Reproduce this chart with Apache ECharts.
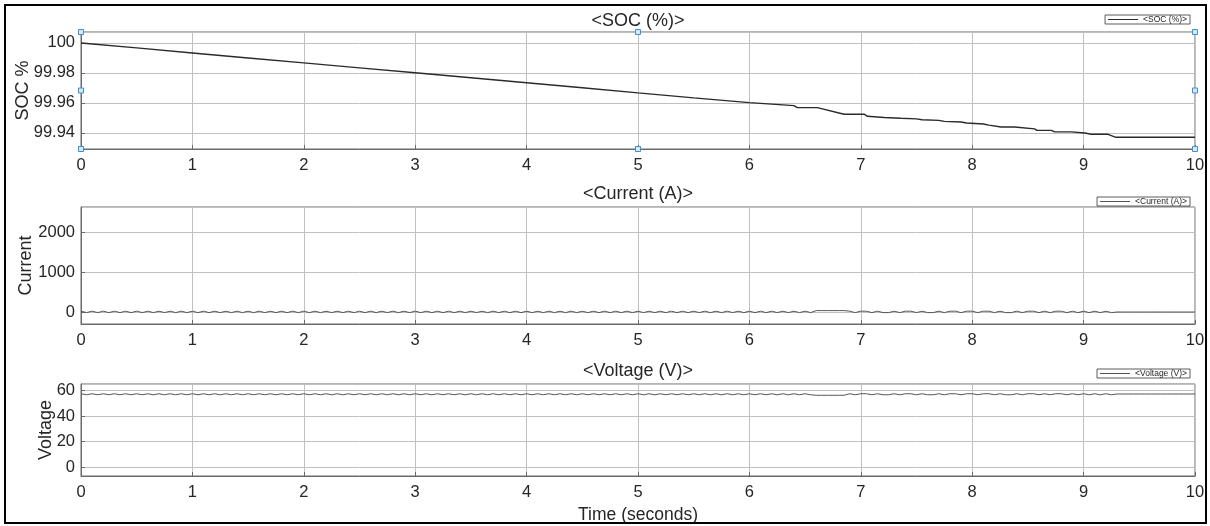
<!DOCTYPE html>
<html>
<head>
<meta charset="utf-8">
<script src="https://cdn.jsdelivr.net/npm/echarts@6/dist/echarts.min.js"></script>
<style>
html,body{margin:0;padding:0;background:#fff;}
#chart{width:1210px;height:526px;}
</style>
</head>
<body>
<div id="chart"></div>
<script>
// ---- Data ----
const xTicks = [0,1,2,3,4,5,6,7,8,9,10];

const socTime = [0,0.5,1,1.5,2,2.5,3,3.5,4,4.5,5,5.5,6,6.2,6.4,6.43,6.61,6.85,7.03,7.06,7.21,7.36,7.5,7.55,7.7,7.75,7.9,7.95,8.1,8.15,8.26,8.38,8.39,8.56,8.58,8.71,8.74,8.89,8.9,9.01,9.07,9.22,9.29,10];
const socValues = [100,99.9967,99.9933,99.99,99.9867,99.9834,99.9801,99.9768,99.9735,99.9701,99.9667,99.9634,99.9602,99.9592,99.9582,99.9569,99.9569,99.9525,99.9525,99.9511,99.9503,99.9498,99.9494,99.9488,99.9484,99.9477,99.9473,99.9466,99.946,99.9452,99.944,99.944,99.9427,99.9427,99.9417,99.9417,99.9407,99.9407,99.94,99.94,99.9391,99.9391,99.9371,99.9371];

const cvTime = [
0,0.05,0.1,0.15,0.2,0.25,0.3,0.35,0.4,0.45,0.5,0.55,0.6,0.65,0.7,0.75,0.8,0.85,0.9,0.95,
1,1.05,1.1,1.15,1.2,1.25,1.3,1.35,1.4,1.45,1.5,1.55,1.6,1.65,1.7,1.75,1.8,1.85,1.9,1.95,
2,2.05,2.1,2.15,2.2,2.25,2.3,2.35,2.4,2.45,2.5,2.55,2.6,2.65,2.7,2.75,2.8,2.85,2.9,2.95,
3,3.05,3.1,3.15,3.2,3.25,3.3,3.35,3.4,3.45,3.5,3.55,3.6,3.65,3.7,3.75,3.8,3.85,3.9,3.95,
4,4.05,4.1,4.15,4.2,4.25,4.3,4.35,4.4,4.45,4.5,4.55,4.6,4.65,4.7,4.75,4.8,4.85,4.9,4.95,
5,5.05,5.1,5.15,5.2,5.25,5.3,5.35,5.4,5.45,5.5,5.55,5.6,5.65,5.7,5.75,5.8,5.85,5.9,5.95,
6,6.05,6.1,6.15,6.2,6.25,6.3,6.35,6.4,6.45,6.5,6.55,6.6,6.65,6.7,6.75,6.8,6.85,6.9,6.95,
7,7.05,7.1,7.15,7.2,7.25,7.3,7.35,7.4,7.45,7.5,7.55,7.6,7.65,7.7,7.75,7.8,7.85,7.9,7.95,
8,8.05,8.1,8.15,8.2,8.25,8.3,8.35,8.4,8.45,8.5,8.55,8.6,8.65,8.7,8.75,8.8,8.85,8.9,8.95,
9,9.05,9.1,9.15,9.2,9.25,9.3,9.35,9.4,9.45,9.5,9.55,9.6,9.65,9.7,9.75,9.8,9.85,9.9,9.95,
10];

const currentValues = [
20,-15,20,-15,20,-15,20,-15,20,-15,20,-15,20,-15,20,-15,20,-15,20,-15,
20,-15,20,-15,20,-15,20,-15,20,-15,20,-15,20,-15,20,-15,20,-15,20,-15,
20,-15,20,-15,20,-15,20,-15,20,-15,20,-15,20,-15,20,-15,20,-15,20,-15,
20,-15,20,-15,20,-15,20,-15,20,-15,20,-15,20,-15,20,-15,20,-15,20,-15,
20,-15,20,-15,20,-15,20,-15,20,-15,20,-15,20,-15,20,-15,20,-15,20,-15,
20,-15,20,-15,20,-15,20,-15,20,-15,20,-15,20,-15,20,-15,20,-15,20,-15,
20,-15,20,-15,20,-15,20,-15,20,-15,20,-15,35,35,35,35,35,35,20,-15,
20,20,-15,20,-15,-15,20,-15,20,20,-15,20,-15,-15,20,-15,20,20,-15,20,
20,-15,20,20,-15,20,-15,-15,20,-15,20,20,-15,20,-15,20,20,-15,20,-15,
20,-15,20,-15,20,-15,0,0,0,0,0,0,0,0,0,0,0,0,0,0,
0];

const voltageValues = [
57.4,56.6,57.4,56.6,57.4,56.6,57.4,56.6,57.4,56.6,57.4,56.6,57.4,56.6,57.4,56.6,57.4,56.6,57.4,56.6,
57.4,56.6,57.4,56.6,57.4,56.6,57.4,56.6,57.4,56.6,57.4,56.6,57.4,56.6,57.4,56.6,57.4,56.6,57.4,56.6,
57.4,56.6,57.4,56.6,57.4,56.6,57.4,56.6,57.4,56.6,57.4,56.6,57.4,56.6,57.4,56.6,57.4,56.6,57.4,56.6,
57.4,56.6,57.4,56.6,57.4,56.6,57.4,56.6,57.4,56.6,57.4,56.6,57.4,56.6,57.4,56.6,57.4,56.6,57.4,56.6,
57.4,56.6,57.4,56.6,57.4,56.6,57.4,56.6,57.4,56.6,57.4,56.6,57.4,56.6,57.4,56.6,57.4,56.6,57.4,56.6,
57.4,56.6,57.4,56.6,57.4,56.6,57.4,56.6,57.4,56.6,57.4,56.6,57.4,56.6,57.4,56.6,57.4,56.6,57.4,56.6,
57.4,56.6,57.4,56.6,57.4,56.6,57.4,56.6,57.4,56.6,57.4,56.6,56.2,56.2,56.2,56.2,56.2,56.2,57.4,56.6,
57.4,57.4,56.6,57.4,56.6,56.6,57.4,56.6,57.4,57.4,56.6,57.4,56.6,56.6,57.4,56.6,57.4,57.4,56.6,57.4,
57.4,56.6,57.4,57.4,56.6,57.4,56.6,56.6,57.4,56.6,57.4,57.4,56.6,57.4,56.6,57.4,57.4,56.6,57.4,56.6,
57.4,56.6,57.4,56.6,57.4,56.6,57.2,57.2,57.2,57.2,57.2,57.2,57.2,57.2,57.2,57.2,57.2,57.2,57.2,57.2,
57.2];

const titles = ['<SOC (%)>', '<Current (A)>', '<Voltage (V)>'];
const yNames = ['SOC %', 'Current', 'Voltage'];
const yRanges = [[99.9293, 100.0073], [-300, 2625], [-6.8, 65]];
const yStep = [0.02, 1000, 20];

// ---- Build ----
const FONT = 'Liberation Sans, Arial, Helvetica, sans-serif';
const TXT = '#262626';
const AXIS = '#6a6a6a';
const GRIDC = '#c0c0c0';

const grids = [
  {left: 81, right: 15, top: 32, height: 117},
  {left: 81, right: 15, top: 207, height: 117},
  {left: 81, right: 15, top: 384, height: 92}
].map(g => Object.assign(g, {show: true, borderColor: AXIS, borderWidth: 1, backgroundColor: '#fff', containLabel: false, outerBoundsMode: 'none'}));

const xAxes = [0,1,2].map(i => ({
  type: 'value', gridIndex: i, min: xTicks[0], max: xTicks[xTicks.length-1], interval: 1,
  axisLine: {show: true, onZero: false, lineStyle: {color: AXIS}},
  axisTick: {show: true, inside: true, length: 4, lineStyle: {color: AXIS}},
  axisLabel: {fontSize: 16.5, color: TXT, fontFamily: FONT, margin: 8},
  splitLine: {show: true, lineStyle: {color: GRIDC, width: 1}},
  name: i === 2 ? 'Time (seconds)' : '',
  nameLocation: 'middle', nameGap: 30, nameMoveOverlap: false,
  nameTextStyle: {fontSize: 17.5, color: TXT, fontFamily: FONT}
}));

const nameGaps = [49, 46, 26];
const splitNums = [4, 3, 3];
const yAxes = [0,1,2].map(i => ({
  type: 'value', gridIndex: i, min: yRanges[i][0], max: yRanges[i][1], splitNumber: splitNums[i],
  axisLine: {show: true, onZero: false, lineStyle: {color: AXIS}},
  axisTick: {show: true, inside: true, length: 4, lineStyle: {color: AXIS}},
  axisLabel: {
    fontSize: 16.5, color: TXT, fontFamily: FONT, margin: 6, showMinLabel: false, showMaxLabel: false,
    formatter: v => {
      const k = Math.round(v / yStep[i]);
      if (Math.abs(v - k * yStep[i]) > yStep[i] * 1e-3) return '';
      return String(+(k * yStep[i]).toFixed(2));
    }
  },
  splitLine: {show: true, lineStyle: {color: GRIDC, width: 1}},
  name: yNames[i], nameLocation: 'middle', nameGap: nameGaps[i], nameRotate: 90, nameMoveOverlap: false,
  nameTextStyle: {fontSize: 18, color: TXT, fontFamily: FONT}
}));

const handleStyle = {color: '#d4e8f8', borderColor: '#3f8fd2', borderWidth: 1};
const yMid = (yRanges[0][0] + yRanges[0][1]) / 2;
const handles = [
  [0, yRanges[0][1]], [0, yMid], [0, yRanges[0][0]],
  [5, yRanges[0][1]], [5, yRanges[0][0]],
  [10, yRanges[0][1]], [10, yMid], [10, yRanges[0][0]]
].map(c => ({coord: c}));

const series = [
  {
    name: titles[0], type: 'line', xAxisIndex: 0, yAxisIndex: 0,
    data: socTime.map((t, k) => [t, socValues[k]]),
    symbol: 'none', color: '#2a2a2a', lineStyle: {color: '#2a2a2a', width: 1.4}, animation: false,
    markPoint: {symbol: 'rect', symbolSize: 5, itemStyle: handleStyle, label: {show: false}, silent: true, data: handles, animation: false}
  },
  {
    name: titles[1], type: 'line', xAxisIndex: 1, yAxisIndex: 1,
    data: cvTime.map((t, k) => [t, currentValues[k]]),
    symbol: 'none', color: '#555', lineStyle: {color: '#555', width: 1}, animation: false
  },
  {
    name: titles[2], type: 'line', xAxisIndex: 2, yAxisIndex: 2,
    data: cvTime.map((t, k) => [t, voltageValues[k]]),
    symbol: 'none', color: '#555', lineStyle: {color: '#555', width: 1}, animation: false
  }
];

const legendTop = [15, 197, 369];
const legends = [0,1,2].map(i => ({
  data: [titles[i]], right: 20, top: legendTop[i], orient: 'horizontal',
  icon: 'rect', itemWidth: 30, itemHeight: 1, itemGap: 2,
  selectedMode: false, padding: [0, 3, 0, 3],
  borderColor: '#333', borderWidth: 0.8, backgroundColor: '#fff',
  textStyle: {fontSize: 8.5, color: TXT, fontFamily: FONT, padding: [0, 0, 0, 0], lineHeight: 9}
}));

const titleY = [21, 194, 371];
const graphic = [
  {type: 'rect', silent: true, z: 100, shape: {x: 5, y: 5, width: 1201, height: 518}, style: {fill: 'none', stroke: '#000', lineWidth: 2}}
].concat(titles.map((t, i) => ({
  type: 'text', x: 638, y: titleY[i], z: 100, silent: true,
  style: {text: t, align: 'center', verticalAlign: 'middle', fontSize: 18, fontFamily: FONT, fill: TXT}
})));

const chart = echarts.init(document.getElementById('chart'));
chart.setOption({
  animation: false,
  backgroundColor: '#fff',
  grid: grids,
  xAxis: xAxes,
  yAxis: yAxes,
  legend: legends,
  series: series,
  graphic: graphic
});
</script>
</body>
</html>
